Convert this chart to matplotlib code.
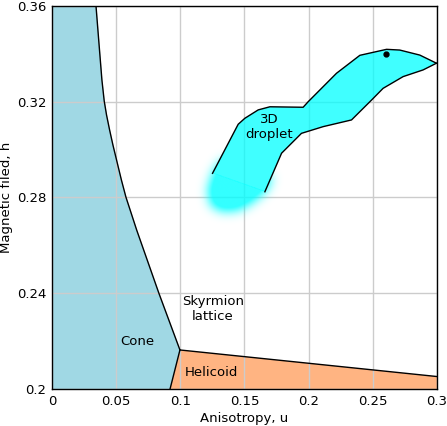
import numpy as np
import matplotlib
matplotlib.use("Agg")
import matplotlib.pyplot as plt
from matplotlib.path import Path

# ---- data ----
cone_u = [0.0343, 0.0364, 0.0389, 0.0407, 0.0425, 0.0449, 0.0475, 0.0503, 0.0541, 0.0576, 0.0660, 0.0833, 0.0997]
cone_h = [0.3600, 0.3458, 0.3291, 0.3203, 0.3145, 0.3082, 0.3019, 0.2957, 0.2873, 0.2802, 0.2664, 0.2400, 0.2163]
cone_hel_u = [0.0997, 0.0920]
cone_hel_h = [0.2163, 0.2000]
hel_u = [0.0997, 0.3000]
hel_h = [0.2163, 0.2052]

drop_upper_u = [0.1251, 0.1451, 0.1503, 0.1607, 0.1698, 0.1957, 0.1996, 0.2217, 0.2399, 0.2607, 0.2710, 0.2866, 0.2996]
drop_upper_h = [0.2901, 0.3106, 0.3131, 0.3166, 0.3179, 0.3177, 0.3200, 0.3319, 0.3394, 0.3419, 0.3416, 0.3395, 0.3361]
drop_lower_u = [0.2996, 0.2892, 0.2736, 0.2580, 0.2490, 0.2334, 0.2113, 0.1944, 0.1789, 0.1659]
drop_lower_h = [0.3361, 0.3333, 0.3305, 0.3256, 0.3207, 0.3124, 0.3096, 0.3068, 0.2985, 0.2824]
blob_u = [0.1254, 0.1212, 0.1236, 0.1324, 0.1449, 0.1550, 0.1659, 0.1713, 0.1324]
blob_h = [0.2902, 0.2828, 0.2764, 0.2740, 0.2745, 0.2775, 0.2823, 0.2882, 0.2957]
dot_u, dot_h = [0.26], [0.34]

xticks = [0, 0.05, 0.1, 0.15, 0.2, 0.25, 0.3]
xticklabels = ["0", "0.05", "0.1", "0.15", "0.2", "0.25", "0.3"]
yticks = [0.2, 0.24, 0.28, 0.32, 0.36]
yticklabels = ["0.2", "0.24", "0.28", "0.32", "0.36"]

labels = [("Cone", 0.0662, 0.2200), ("Helicoid", 0.1246, 0.2067),
          ("Skyrmion\nlattice", 0.1254, 0.2334), ("3D\ndroplet", 0.1690, 0.3096)]

cone_color = "#a0d8e4"
hel_color = "#ffb482"
cyan = "#00ffff"

fig = plt.figure(figsize=(4.47, 4.26), dpi=100)
ax = fig.add_axes([0.1163, 0.0869, 0.8613, 0.8990])
ax.set_xlim(0, 0.3)
ax.set_ylim(0.2, 0.36)
ax.set_axisbelow("line")
ax.grid(True, color="#cccccc", lw=1.0)

# cone
cu = cone_u + cone_hel_u[1:]
ch = cone_h + cone_hel_h[1:]
ax.fill_betweenx(ch, 0, cu, color=cone_color, lw=0, zorder=1)
# helicoid
hu = [cone_hel_u[1], cone_hel_u[0], hel_u[1], hel_u[1]]
hh = [cone_hel_h[1], cone_hel_h[0], hel_h[1], 0.2]
ax.fill(hu, hh, color=hel_color, lw=0, zorder=1)

# droplet solid
du = drop_upper_u + drop_lower_u
dh = drop_upper_h + drop_lower_h
ax.fill(du, dh, color=cyan, alpha=0.75, lw=0, zorder=2)

# droplet blurred end
su, sh = 1284.0, 2394.0  # px per data unit
res = 2
u0, u1, h0, h1 = 0.095, 0.195, 0.255, 0.305
nu = int((u1 - u0) * su * res)
nh = int((h1 - h0) * sh * res)
ug = np.linspace(u0, u1, nu)
hg = np.linspace(h0, h1, nh)
UU, HH = np.meshgrid(ug, hg)
pts = np.column_stack([UU.ravel(), HH.ravel()])
blob_mask = Path(np.column_stack([blob_u, blob_h])).contains_points(pts).reshape(nh, nu).astype(float)
solid_mask = Path(np.column_stack([du, dh])).contains_points(pts).reshape(nh, nu).astype(float)

def blur(a, sigma):
    r = int(3 * sigma)
    x = np.arange(-r, r + 1)
    k = np.exp(-x**2 / (2 * sigma**2)); k /= k.sum()
    a = np.apply_along_axis(lambda v: np.convolve(v, k, mode="same"), 0, a)
    a = np.apply_along_axis(lambda v: np.convolve(v, k, mode="same"), 1, a)
    return a

B = blur(blob_mask, 5.5 * res)
B = np.clip(B * 1.4, 0, 1) * (1 - solid_mask)
img = np.zeros((nh, nu, 4))
img[..., 1] = 1
img[..., 2] = 1
img[..., 3] = B * 0.8
ax.imshow(img, extent=[u0, u1, h0, h1], origin="lower", aspect="auto",
          interpolation="bilinear", zorder=2)
ax.set_xlim(0, 0.3)
ax.set_ylim(0.2, 0.36)

# boundaries
ax.plot(cone_u, cone_h, color="black", lw=1.0, zorder=3)
ax.plot(cone_hel_u, cone_hel_h, color="black", lw=1.0, zorder=3)
ax.plot(hel_u, hel_h, color="black", lw=1.0, zorder=3)
ax.plot(drop_upper_u, drop_upper_h, color="black", lw=1.0, zorder=3)
ax.plot(drop_lower_u, drop_lower_h, color="black", lw=1.0, zorder=3)
ax.plot(dot_u, dot_h, "o", color="black", ms=3.5, zorder=4)

for t, x, y in labels:
    ax.text(x, y, t, ha="center", va="center", fontsize=9.5, zorder=5, linespacing=1.2)

ax.set_xticks(xticks)
ax.set_xticklabels(xticklabels)
ax.set_yticks(yticks)
ax.set_yticklabels(yticklabels)
ax.tick_params(length=0, labelsize=9.5, pad=4)
ax.set_xlabel("Anisotropy, u", fontsize=9.5, labelpad=3)
ax.set_ylabel("Magnetic filed, h", fontsize=9.5, labelpad=3)
for s in ax.spines.values():
    s.set_linewidth(1.0)
    s.set_zorder(6)

fig.savefig("out.png", dpi=100)
